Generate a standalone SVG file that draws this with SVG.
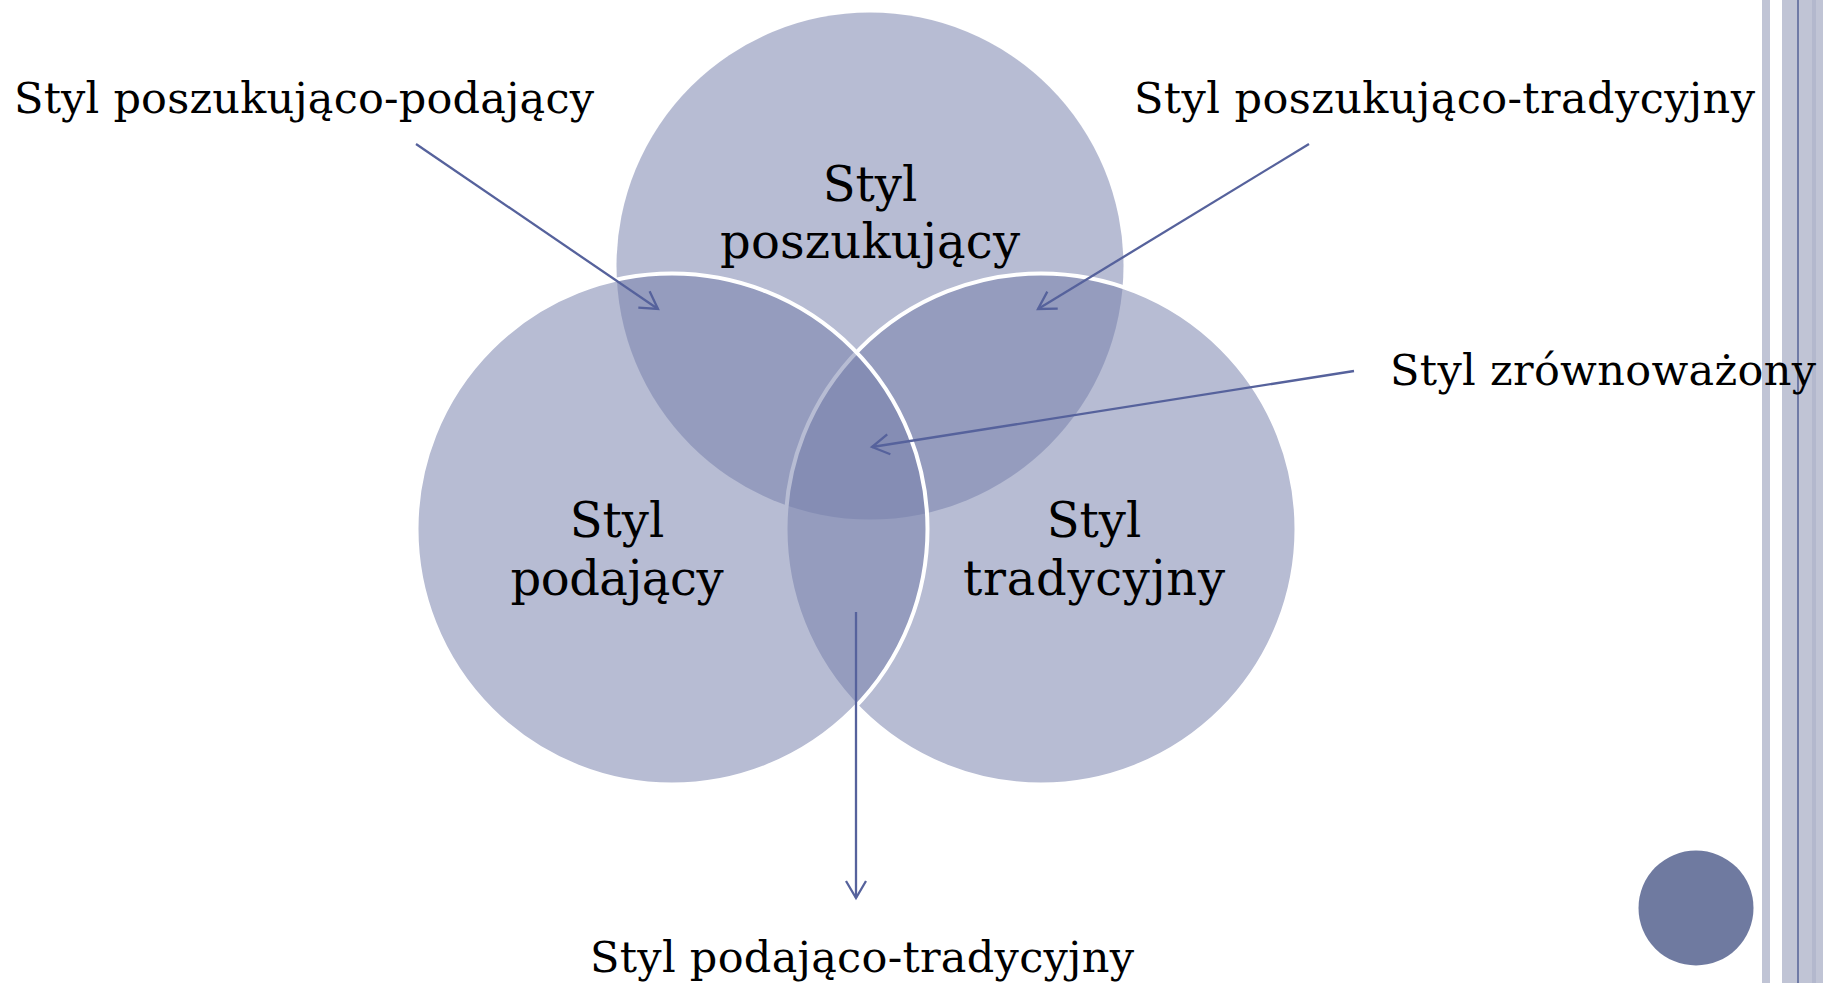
<svg xmlns="http://www.w3.org/2000/svg" width="1823" height="983" viewBox="0 0 1823 983">
<style>
.c{fill:#7780ac;fill-opacity:0.53}
.w{stroke:#ffffff;stroke-width:4}
.lbl{font-family:"DejaVu Serif","Liberation Serif",serif;font-size:43px;fill:#000}
.big{font-family:"DejaVu Serif","Liberation Serif",serif;font-size:48px;fill:#000;text-anchor:middle}
.ar{stroke:#56629c;stroke-width:2.3;fill:none;marker-end:url(#ah)}
</style>
<defs>
<marker id="ah" markerUnits="userSpaceOnUse" markerWidth="24" markerHeight="24" viewBox="-20 -12 24 24" refX="0" refY="0" orient="auto">
<path d="M-17,-10 L0,0 L-17,10" fill="none" stroke="#56629c" stroke-width="2.3"/>
</marker>
</defs>
<rect width="1823" height="983" fill="#ffffff"/>
<g id="decor">
<rect x="1762" y="0" width="8" height="983" fill="#c0c4d5"/>
<rect x="1782" y="0" width="41" height="983" fill="#c0c4d5"/>
<rect x="1812" y="0" width="4" height="983" fill="#b3b8cd"/>
<rect x="1797" y="0" width="2" height="983" fill="#6f7aa6"/>
<circle cx="1696" cy="908" r="57.5" fill="#6f7aa0"/>
</g>
<g id="circle-top"><circle class="c" cx="870" cy="266" r="253.5"/></g>
<g id="circle-right"><circle class="c w" cx="1041" cy="529" r="255.5"/></g>
<g id="circle-left"><circle class="c w" cx="672" cy="529" r="255.5"/></g>
<g id="label-top">
<text class="big" x="870" y="201">Styl</text>
<text class="big" x="870" y="258" textLength="300">poszukujący</text>
</g>
<g id="label-left">
<text class="big" x="617" y="537">Styl</text>
<text class="big" x="617" y="595" textLength="213">podający</text>
</g>
<g id="label-right">
<text class="big" x="1094" y="537">Styl</text>
<text class="big" x="1094" y="595" textLength="262">tradycyjny</text>
</g>
<g id="connectors">
<line class="ar" x1="416" y1="144" x2="658" y2="309"/>
<line class="ar" x1="1309" y1="144" x2="1038" y2="309"/>
<line class="ar" x1="1354" y1="371" x2="872" y2="447"/>
<line class="ar" x1="856" y1="612" x2="856" y2="898"/>
</g>
<g id="ext-labels">
<text id="t-pp" class="lbl" x="14" y="113" textLength="580">Styl poszukująco-podający</text>
<text id="t-pt" class="lbl" x="1134" y="113" textLength="621">Styl poszukująco-tradycyjny</text>
<text id="t-z" class="lbl" x="1390" y="385" textLength="426">Styl zrównoważony</text>
<text id="t-dt" class="lbl" x="590" y="972" textLength="544">Styl podająco-tradycyjny</text>
</g>
</svg>
